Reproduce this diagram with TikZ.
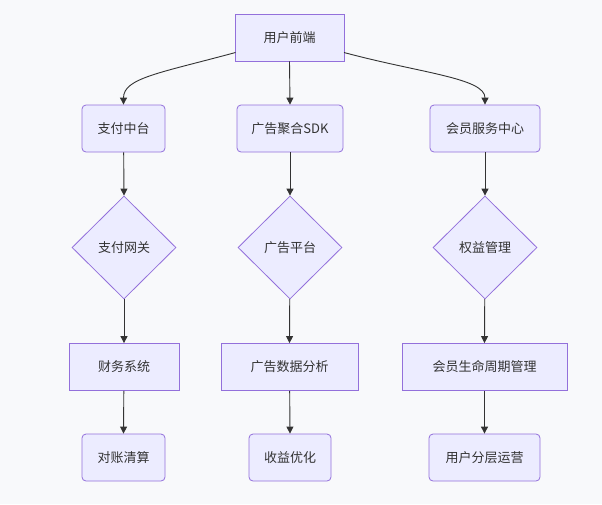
\documentclass[tikz,border=0pt]{standalone}
\usepackage{fontspec}
\setmainfont{Noto Sans CJK SC}
\usetikzlibrary{shapes.geometric,arrows.meta}
\definecolor{nodefill}{HTML}{ECECFF}
\definecolor{nodeline}{HTML}{9370DB}
\definecolor{edge}{HTML}{333333}
\definecolor{bg}{HTML}{F8F9FB}
\begin{document}
\begin{tikzpicture}[x=1pt,y=-1pt,
  every node/.style={font=\fontsize{13}{15}\selectfont, text=edge, inner sep=0pt},
  sq/.style={draw=nodeline, fill=nodefill, line width=0.8pt, rectangle, minimum height=47pt},
  rd/.style={sq, rounded corners=4pt},
  dm/.style={draw=nodeline, fill=nodefill, line width=0.8pt, diamond, minimum width=104pt, minimum height=103pt},
  conn/.style={draw=edge, line width=0.9pt, -{Triangle[length=7pt,width=7pt]}}]
\fill[bg] (0,0) rectangle (602,504);
\useasboundingbox (0,0) rectangle (602,504);
\node[sq, minimum width=109pt] (top) at (289.5,37.5) {用户前端};
\node[rd, minimum width=83pt] (pay) at (123.5,128.5) {支付中台};
\node[rd, minimum width=106pt] (ad) at (290,128.5) {广告聚合SDK};
\node[rd, minimum width=110pt] (mem) at (485,128.5) {会员服务中心};
\node[dm] (gw) at (124,247.5) {支付网关};
\node[dm] (plat) at (290,247.5) {广告平台};
\node[dm] (right) at (485,247.5) {权益管理};
\node[sq, minimum width=110pt] (fin) at (124,367) {财务系统};
\node[sq, minimum width=137pt] (ana) at (289.5,367) {广告数据分析};
\node[sq, minimum width=165pt] (life) at (484.5,367) {会员生命周期管理};
\node[rd, minimum width=83pt] (rec) at (123.5,457.5) {对账清算};
\node[rd, minimum width=82pt] (opt) at (290,457.5) {收益优化};
\node[rd, minimum width=111pt] (tier) at (484.5,457.5) {用户分层运营};
\coordinate (tl) at (235.5,52.5);
\coordinate (tr) at (344,52.5);
\draw[conn] (tl) .. controls (160,73) and (123.5,78) .. (pay.north);
\draw[conn] (top.south) -- (ad.north);
\draw[conn] (tr) .. controls (420,73) and (485,78) .. (mem.north);
\draw[conn] (pay) -- (gw.north);
\draw[conn] (ad) -- (plat.north);
\draw[conn] (mem) -- (right.north);
\draw[conn] (gw) -- (fin.north);
\draw[conn] (plat) -- (ana.north);
\draw[conn] (right) -- (life.north);
\draw[conn] (fin) -- (rec.north);
\draw[conn] (ana) -- (opt.north);
\draw[conn] (life) -- (tier.north);
\end{tikzpicture}
\end{document}
